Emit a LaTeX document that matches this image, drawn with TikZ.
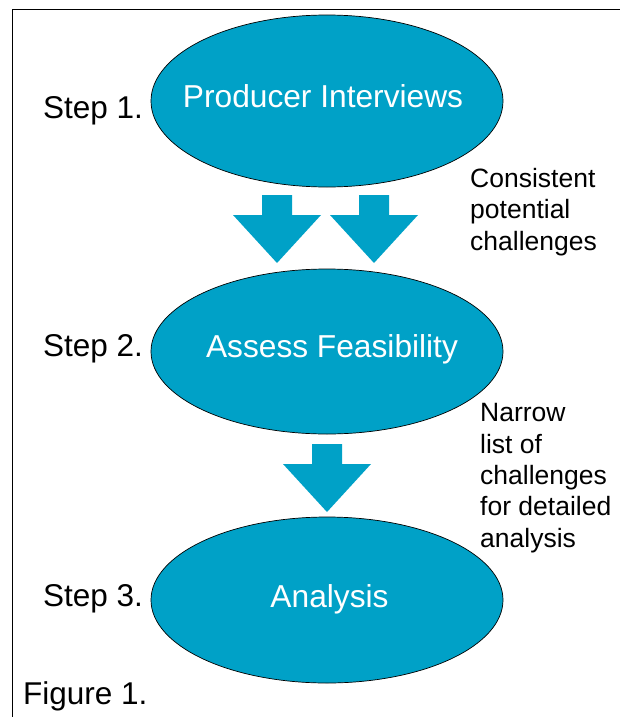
\documentclass[tikz,border=0pt]{standalone}
\usepackage{fontspec}
\setmainfont{Liberation Sans}
\usetikzlibrary{shapes.geometric}
\definecolor{stagefill}{RGB}{0,161,199}
\begin{document}
\begin{tikzpicture}[x=1pt,y=-1pt,
  stage/.style={ellipse, draw=black, line width=0.7pt, fill=stagefill, minimum width=352pt, inner sep=0pt},
  intext/.style={text=white, font=\fontsize{31.7}{38}\selectfont, anchor=base, inner sep=0pt},
  steplabel/.style={font=\fontsize{31.5}{38}\selectfont, anchor=base west, inner sep=0pt},
  note/.style={font=\fontsize{26.5}{31.3}\selectfont, anchor=base west, align=left, inner sep=0pt},
  downarrow/.pic={\fill[stagefill] (-15,0) -- (15,0) -- (15,20) -- (44,20) -- (0,68) -- (-44,20) -- (-15,20) -- cycle;}]
\useasboundingbox (0,0) rectangle (620,717);
\draw[line width=0.9pt] (12.5,717) -- (12.5,9.5) -- (620,9.5);

\node[stage, minimum height=172pt] (e1) at (327,101) {};
\node[stage, minimum height=165pt] (e2) at (327,351.5) {};
\node[stage, minimum height=166pt] (e3) at (327,600) {};

\node[intext] (t1) at (323,107) {Producer Interviews};
\node[intext] (t2) at (332,357) {Assess Feasibility};
\node[intext] (t3) at (329.5,607) {Analysis};

\pic (a1) at (277,195) {downarrow};
\pic (a2) at (374,195) {downarrow};
\pic (a3) at (327,444) {downarrow};

\node[steplabel] (s1) at (43,118) {Step 1.};
\node[steplabel] (s2) at (43,356) {Step 2.};
\node[steplabel] (s3) at (43,606) {Step 3.};
\node[steplabel] (fig) at (23,704) {Figure 1.};

% base anchor of a multi-line node is the baseline of its last line
\node[note] (n1) at (470,250) {Consistent\\potential\\challenges};
\node[note] (n2) at (480,547) {Narrow\\list of\\challenges\\for detailed\\analysis};
\end{tikzpicture}
\end{document}
